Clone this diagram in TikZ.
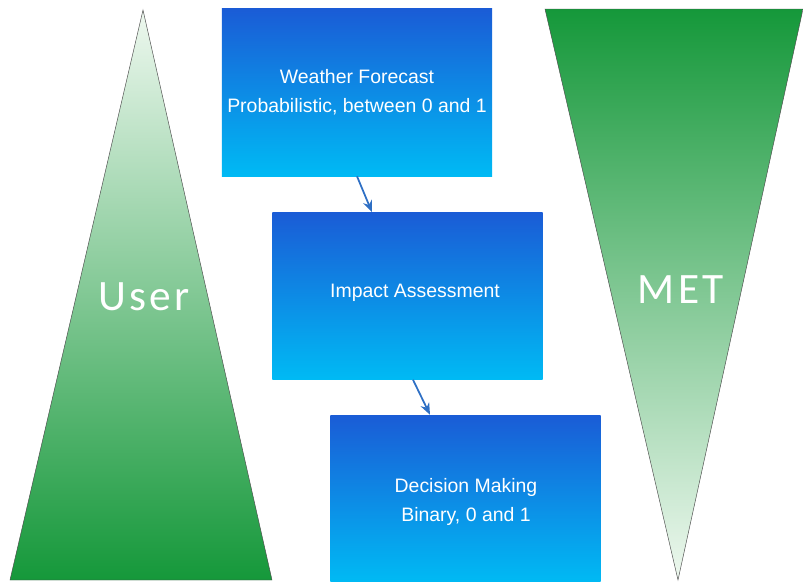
\documentclass[tikz,border=0pt]{standalone}
\usepackage{fontspec}
\setmainfont{Liberation Sans}
\newfontfamily\widefont[LetterSpace=8]{Carlito}
\usepackage{xcolor}
\usetikzlibrary{positioning, calc, arrows.meta}

\definecolor{boxtop}{HTML}{1A5CD6}
\definecolor{boxbottom}{HTML}{00BAF4}
\definecolor{greendark}{HTML}{15983A}
\definecolor{greenlight}{HTML}{EEF8EF}
\definecolor{arrowblue}{HTML}{2E6FC4}

\begin{document}
\begin{tikzpicture}[x=0.03cm, y=-0.03cm,
    box/.style={top color=boxtop, bottom color=boxbottom, draw=none,
        minimum width=8.1cm, minimum height=5.01cm, text=white, align=center,
        font=\fontsize{16.6}{24.6}\selectfont},
    bigword/.style={text=white, font=\widefont\fontsize{37}{42}\selectfont},
    arr/.style={draw=arrowblue, line width=1.5pt, -{Stealth[length=10pt, width=8pt]}}]
    \useasboundingbox (0,0) rectangle (803,582);
    % the two triangles
    \draw[draw=black!70, top color=greenlight, bottom color=greendark]
        (143,10) -- (272,580) -- (10,580) -- cycle;
    \draw[draw=black!70, top color=greendark, bottom color=greenlight]
        (545,9) -- (803,9) -- (678,580) -- cycle;
    \node[bigword] (user) at (144,297) {User};
    \node[bigword] (met) at (681,290) {MET};
    % the three steps
    \node[box] (wf) at (357,92.5) {Weather Forecast\\Probabilistic, between 0 and 1};
    \node[box] (ia) at (407.5,296) {};
    \node[box, text depth=0pt] (dm) at (465.5,498.5) {};
    \node[text=white, font=\fontsize{16.6}{24.6}\selectfont] (iatext) at (415,293) {Impact Assessment};
    \node[text=white, align=center, font=\fontsize{16.6}{24.6}\selectfont] (dmtext) at (466,502) {Decision Making\\Binary, 0 and 1};
    \draw[arr] (wf.south) -- ($(ia.north)+(-35.5,0)$);
    \draw[arr] ($(ia.south)+(5.5,0)$) -- ($(dm.north)+(-35.5,0)$);
\end{tikzpicture}
\end{document}
